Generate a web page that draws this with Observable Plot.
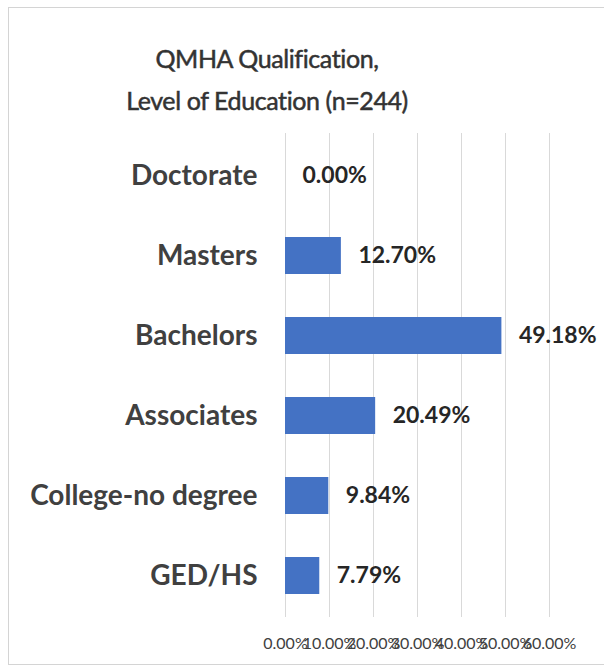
<!DOCTYPE html>
<html>
<head>
<meta charset="utf-8">
<script src="https://cdn.jsdelivr.net/npm/d3@7"></script>
<script src="https://cdn.jsdelivr.net/npm/@observablehq/plot@0.6"></script>
<style>
  html, body { margin: 0; padding: 0; background: #fff; }
  #wrap { position: relative; width: 604px; height: 668px; overflow: hidden; font-family: Lato, "Open Sans", sans-serif; }
  #frame { position: absolute; left: 8px; top: 7px; width: 620px; height: 658px; border: 1px solid #d4d4d4; box-sizing: border-box; }
  #title { position: absolute; left: 0; top: 37px; width: 534px; text-align: center; font-size: 25px; letter-spacing: -0.4px; line-height: 42px; color: #333; font-weight: 400; -webkit-text-stroke: 0.5px #333; }
  #chart { position: absolute; left: 0; top: 0; }
</style>
</head>
<body>
<div id="wrap">
  <div id="frame"></div>
  <div id="chart"></div>
  <div id="title">QMHA Qualification,<br>Level of Education (n=244)</div>
</div>
<script>
const categories = ["Doctorate", "Masters", "Bachelors", "Associates", "College-no degree", "GED/HS"];
const values = [0.00, 12.70, 49.18, 20.49, 9.84, 7.79];
const xTicks = [0, 10, 20, 30, 40, 50, 60];

const data = categories.map((c, i) => ({category: c, value: values[i]}));
const fmt = v => v.toFixed(2) + "%";

const chart = Plot.plot({
  width: 604,
  height: 668,
  marginTop: 133,
  marginBottom: 51,
  marginLeft: 285,
  marginRight: 55,
  style: {fontFamily: "Lato, 'Open Sans', sans-serif", background: "transparent"},
  x: {domain: [0, 60]},
  y: {domain: categories, paddingInner: 0.54, paddingOuter: 0.27},
  marks: [
    Plot.gridX(xTicks, {stroke: "#d9d9d9", strokeOpacity: 1, strokeWidth: 1}),
    Plot.barX(data, {x: "value", y: "category", fill: "#4472c4"}),
    Plot.text(data, {x: "value", y: "category", text: d => fmt(d.value), dx: 17, textAnchor: "start",
      fontSize: 23, fontWeight: "bold", fill: "#262626"}),
    Plot.axisY({tickSize: 0, tickPadding: 28, fontSize: 28, fontWeight: "bold", fill: "#404040", label: null}),
    Plot.axisX({ticks: xTicks, tickSize: 0, tickPadding: 20, fontSize: 16, fill: "#404040", label: null,
      tickFormat: fmt})
  ]
});
document.getElementById("chart").appendChild(chart);
</script>
</body>
</html>
